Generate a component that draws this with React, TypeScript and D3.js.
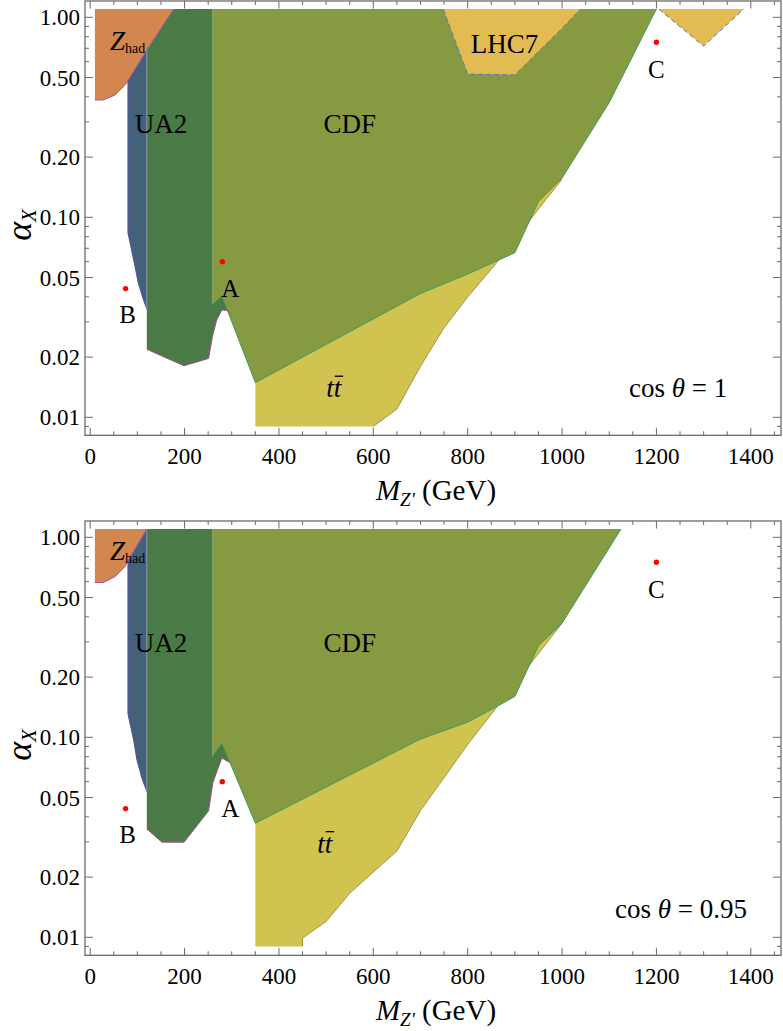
import * as d3 from "d3";

type Pt = [number, number];

// plot range of the filled regions
const TOP = 1.1;
const BOTTOM = 0.009;

// axis ticks
const xMajor = [0, 200, 400, 600, 800, 1000, 1200, 1400];
const xMinor = d3.range(0, 1451, 50);
const yMajor = [0.01, 0.02, 0.05, 0.1, 0.2, 0.5, 1];
const yMajorLabels = ["0.01", "0.02", "0.05", "0.10", "0.20", "0.50", "1.00"];
const yMinor = [0.009, 0.03, 0.04, 0.06, 0.07, 0.08, 0.09, 0.3, 0.4, 0.6, 0.7, 0.8, 0.9];

// benchmark points
const bench = [
  { name: "A", m: 280, a: 0.06, dx: 8, dy: 35 },
  { name: "B", m: 75, a: 0.044, dx: 2, dy: 34 },
  { name: "C", m: 1200, a: 0.75, dx: 0, dy: 36 },
];

// ---- cos θ = 1 ----
const zhad1: Pt[] = [[10, 0.386], [28, 0.386], [53, 0.409], [74, 0.459], [81, 0.486], [120, 0.686], [177, 1.1]];
const ua2Blue1: Pt[] = [[80, 0.0838], [95, 0.0566], [102, 0.0468], [113, 0.0386], [120, 0.0347]];
const ua2Low1: Pt[] = [[120, 0.0219], [155, 0.0201], [199, 0.0181], [251, 0.0197], [259, 0.0253], [268, 0.0306], [279, 0.0344], [290, 0.0342], [299, 0.0328]];
const cdf1: Pt[] = [[259, 0.0367], [279, 0.0404], [350, 0.0149], [700, 0.0416], [800, 0.052], [900, 0.0665], [950, 0.12], [1000, 0.157], [1100, 0.375], [1200, 1.1]];
const tt1: Pt[] = [[600, 0.009], [650, 0.011], [700, 0.018], [750, 0.028], [800, 0.04], [850, 0.055], [900, 0.077], [950, 0.11], [1000, 0.155]];
const lhc7a: Pt[] = [[748, 1.1], [800, 0.52], [900, 0.515], [968, 0.741], [1000, 0.88], [1039, 1.1]];
const lhc7b: Pt[] = [[1205, 1.1], [1300, 0.718], [1385, 1.1]];

// ---- cos θ = 0.95 ----
const zhad2: Pt[] = [[10, 0.594], [28, 0.594], [53, 0.637], [74, 0.715], [81, 0.77], [120, 1.1]];
const ua2Blue2: Pt[] = [[80, 0.131], [92, 0.097], [99, 0.0772], [110, 0.062], [120, 0.0536]];
const ua2Low2: Pt[] = [[120, 0.0348], [152, 0.0299], [199, 0.0299], [251, 0.0429], [260, 0.0594], [279, 0.0787], [298, 0.0743]];
const cdf2: Pt[] = [[259, 0.0802], [279, 0.0935], [350, 0.0372], [700, 0.098], [800, 0.119], [862, 0.1426], [900, 0.16], [950, 0.287], [1000, 0.372], [1125, 1.1]];
const tt2: Pt[] = [[450, 0.009], [450, 0.0099], [500, 0.012], [550, 0.0166], [650, 0.027], [700, 0.043], [800, 0.092], [1000, 0.372]];

const FONT = "'Liberation Serif', 'Times New Roman', serif";
const FRAME = "#6a6a6a";

function Panel({ top, zhad, ua2Blue, ua2Low, cdf, tt, lhc7, labels, cosLabel }: any) {
  const x = d3.scaleLinear().domain([-11, 1464]).range([85, 781]);
  const y = d3.scaleLog().domain([10 ** -2.09, 10 ** 0.0815]).range([top + 434.3, top]);
  const line = d3.line<Pt>().x((p) => x(p[0])).y((p) => y(p[1]));
  const poly = (pts: Pt[]) => line(pts) + "Z";

  const ttEnd = tt[tt.length - 1][0];
  const ttPoly: Pt[] = [[350, TOP], [350, BOTTOM], ...tt, [ttEnd, TOP]];
  const darkPoly: Pt[] = [[120, TOP], ...ua2Low, [ua2Low[ua2Low.length - 1][0], TOP]];
  const cdfPoly: Pt[] = [[cdf[0][0], TOP], ...cdf];
  const bluePoly: Pt[] = [[80, TOP], ...ua2Blue, [120, TOP]];
  const zhadPoly: Pt[] = [[10, TOP], [10, zhad[0][1]], ...zhad];
  const x0 = 85, x1 = 781, yb = top + 434.3;

  return (
    <g fontFamily={FONT}>
      {/* regions */}
      <path d={poly(ttPoly)} fill="#d1c350" />
      <path d={line(tt) || ""} fill="none" stroke="#a08c3c" strokeWidth={0.9} />
      <path d={poly(darkPoly)} fill="#4a7a46" />
      <path d={poly(cdfPoly)} fill="#869b41" />
      <path d={line(cdf) || ""} fill="none" stroke="#3e9d5a" strokeWidth={1} />
      <line x1={x(cdf[0][0])} x2={x(cdf[0][0])} y1={y(TOP)} y2={y(cdf[0][1])} stroke="#8fa878" strokeWidth={0.8} />
      <path d={line(ua2Low) || ""} fill="none" stroke="#a8508c" strokeWidth={1} />
      <path d={poly(bluePoly)} fill="#436179" />
      <path d={line([[80, TOP], ...ua2Blue]) || ""} fill="none" stroke="#5a4ea0" strokeWidth={1} />
      <line x1={x(120)} x2={x(120)} y1={y(TOP)} y2={y(ua2Blue[ua2Blue.length - 1][1])} stroke="#8c9ea8" strokeWidth={0.8} />
      <path d={poly(zhadPoly)} fill="#d1874e" />
      <path d={line(zhad) || ""} fill="none" stroke="#b050a8" strokeWidth={1} />
      {lhc7.map((p: Pt[], i: number) => (
        <g key={i}>
          <path d={poly(p)} fill="#e2bc52" />
          <path d={line(p) || ""} fill="none" stroke="#5a76b8" strokeWidth={1} strokeDasharray="5 3" />
        </g>
      ))}

      {/* frame + ticks */}
      <rect x={x0} y={top} width={x1 - x0} height={434.3} fill="none" stroke={FRAME} strokeWidth={1.3} />
      {xMinor.map((v) => {
        const big = xMajor.includes(v);
        const len = big ? 7.5 : 4;
        return (
          <g key={"x" + v} stroke={FRAME} strokeWidth={1}>
            <line x1={x(v)} x2={x(v)} y1={yb} y2={yb - len} />
            <line x1={x(v)} x2={x(v)} y1={top} y2={top + len} />
          </g>
        );
      })}
      {[...yMajor, ...yMinor].map((v) => {
        const big = yMajor.includes(v);
        const len = big ? 8 : 4;
        return (
          <g key={"y" + v} stroke={FRAME} strokeWidth={1}>
            <line x1={x0} x2={x0 + len} y1={y(v)} y2={y(v)} />
            <line x1={x1} x2={x1 - len} y1={y(v)} y2={y(v)} />
          </g>
        );
      })}
      {xMajor.map((v) => (
        <text key={"xl" + v} x={x(v)} y={yb + 28.7} textAnchor="middle" fontSize={23}>{v}</text>
      ))}
      {yMajor.map((v, i) => (
        <text key={"yl" + v} x={80} y={y(v) + 8} textAnchor="end" fontSize={23}>{yMajorLabels[i]}</text>
      ))}

      {/* axis titles */}
      <text x={436} y={yb + 65} textAnchor="middle" fontSize={29}>
        <tspan fontStyle="italic">M</tspan>
        <tspan fontStyle="italic" fontSize={19} dy={6}>Z'</tspan>
        <tspan dy={-6}> (GeV)</tspan>
      </text>
      <text transform={`translate(31,${top + 224}) rotate(-90)`} textAnchor="middle" fontSize={36}>
        <tspan fontStyle="italic">α</tspan>
        <tspan fontStyle="italic" fontSize={21} dy={5}>X</tspan>
      </text>

      {/* region labels */}
      <text x={x(labels.zhad[0])} y={y(labels.zhad[1])} fontSize={27}>
        <tspan fontStyle="italic">Z</tspan>
        <tspan fontSize={14} dy={3}>had</tspan>
      </text>
      <text x={x(labels.ua2[0])} y={y(labels.ua2[1])} textAnchor="middle" fontSize={27}>UA2</text>
      <text x={x(labels.cdf[0])} y={y(labels.cdf[1])} textAnchor="middle" fontSize={27}>CDF</text>
      {labels.lhc7 && (
        <text x={x(labels.lhc7[0])} y={y(labels.lhc7[1])} textAnchor="middle" fontSize={27}>LHC7</text>
      )}
      <text x={x(labels.tt[0])} y={y(labels.tt[1])} textAnchor="middle" fontSize={27} fontStyle="italic">tt</text>
      <line x1={x(labels.tt[0]) + 1} x2={x(labels.tt[0]) + 9.5} y1={y(labels.tt[1]) - 21} y2={y(labels.tt[1]) - 21} stroke="#000" strokeWidth={1.3} />
      <text x={x(labels.cos[0])} y={y(labels.cos[1])} textAnchor="end" fontSize={27}>
        cos <tspan fontStyle="italic">θ</tspan> = {cosLabel}
      </text>

      {/* benchmark points */}
      {bench.map((b) => (
        <g key={b.name}>
          <circle cx={x(b.m)} cy={y(b.a)} r={2.7} fill="#ff0000" />
          <text x={x(b.m) + b.dx} y={y(b.a) + b.dy} textAnchor="middle" fontSize={25}>{b.name}</text>
        </g>
      ))}
    </g>
  );
}

export default function App() {
  return (
    <svg width={783} height={1031} style={{ position: "absolute", left: 0, top: 0, background: "#fff" }}>
      <Panel
        top={1}
        zhad={zhad1}
        ua2Blue={ua2Blue1}
        ua2Low={ua2Low1}
        cdf={cdf1}
        tt={tt1}
        lhc7={[lhc7a, lhc7b]}
        cosLabel="1"
        labels={{
          zhad: [42, 0.686],
          ua2: [150, 0.263],
          cdf: [550, 0.265],
          lhc7: [878, 0.66],
          tt: [516, 0.0126],
          cos: [1350, 0.0126],
        }}
      />
      <Panel
        top={521}
        zhad={zhad2}
        ua2Blue={ua2Blue2}
        ua2Low={ua2Low2}
        cdf={cdf2}
        tt={tt2}
        lhc7={[]}
        cosLabel="0.95"
        labels={{
          zhad: [42, 0.772],
          ua2: [150, 0.268],
          cdf: [550, 0.267],
          tt: [497, 0.0265],
          cos: [1392, 0.0125],
        }}
      />
    </svg>
  );
}
